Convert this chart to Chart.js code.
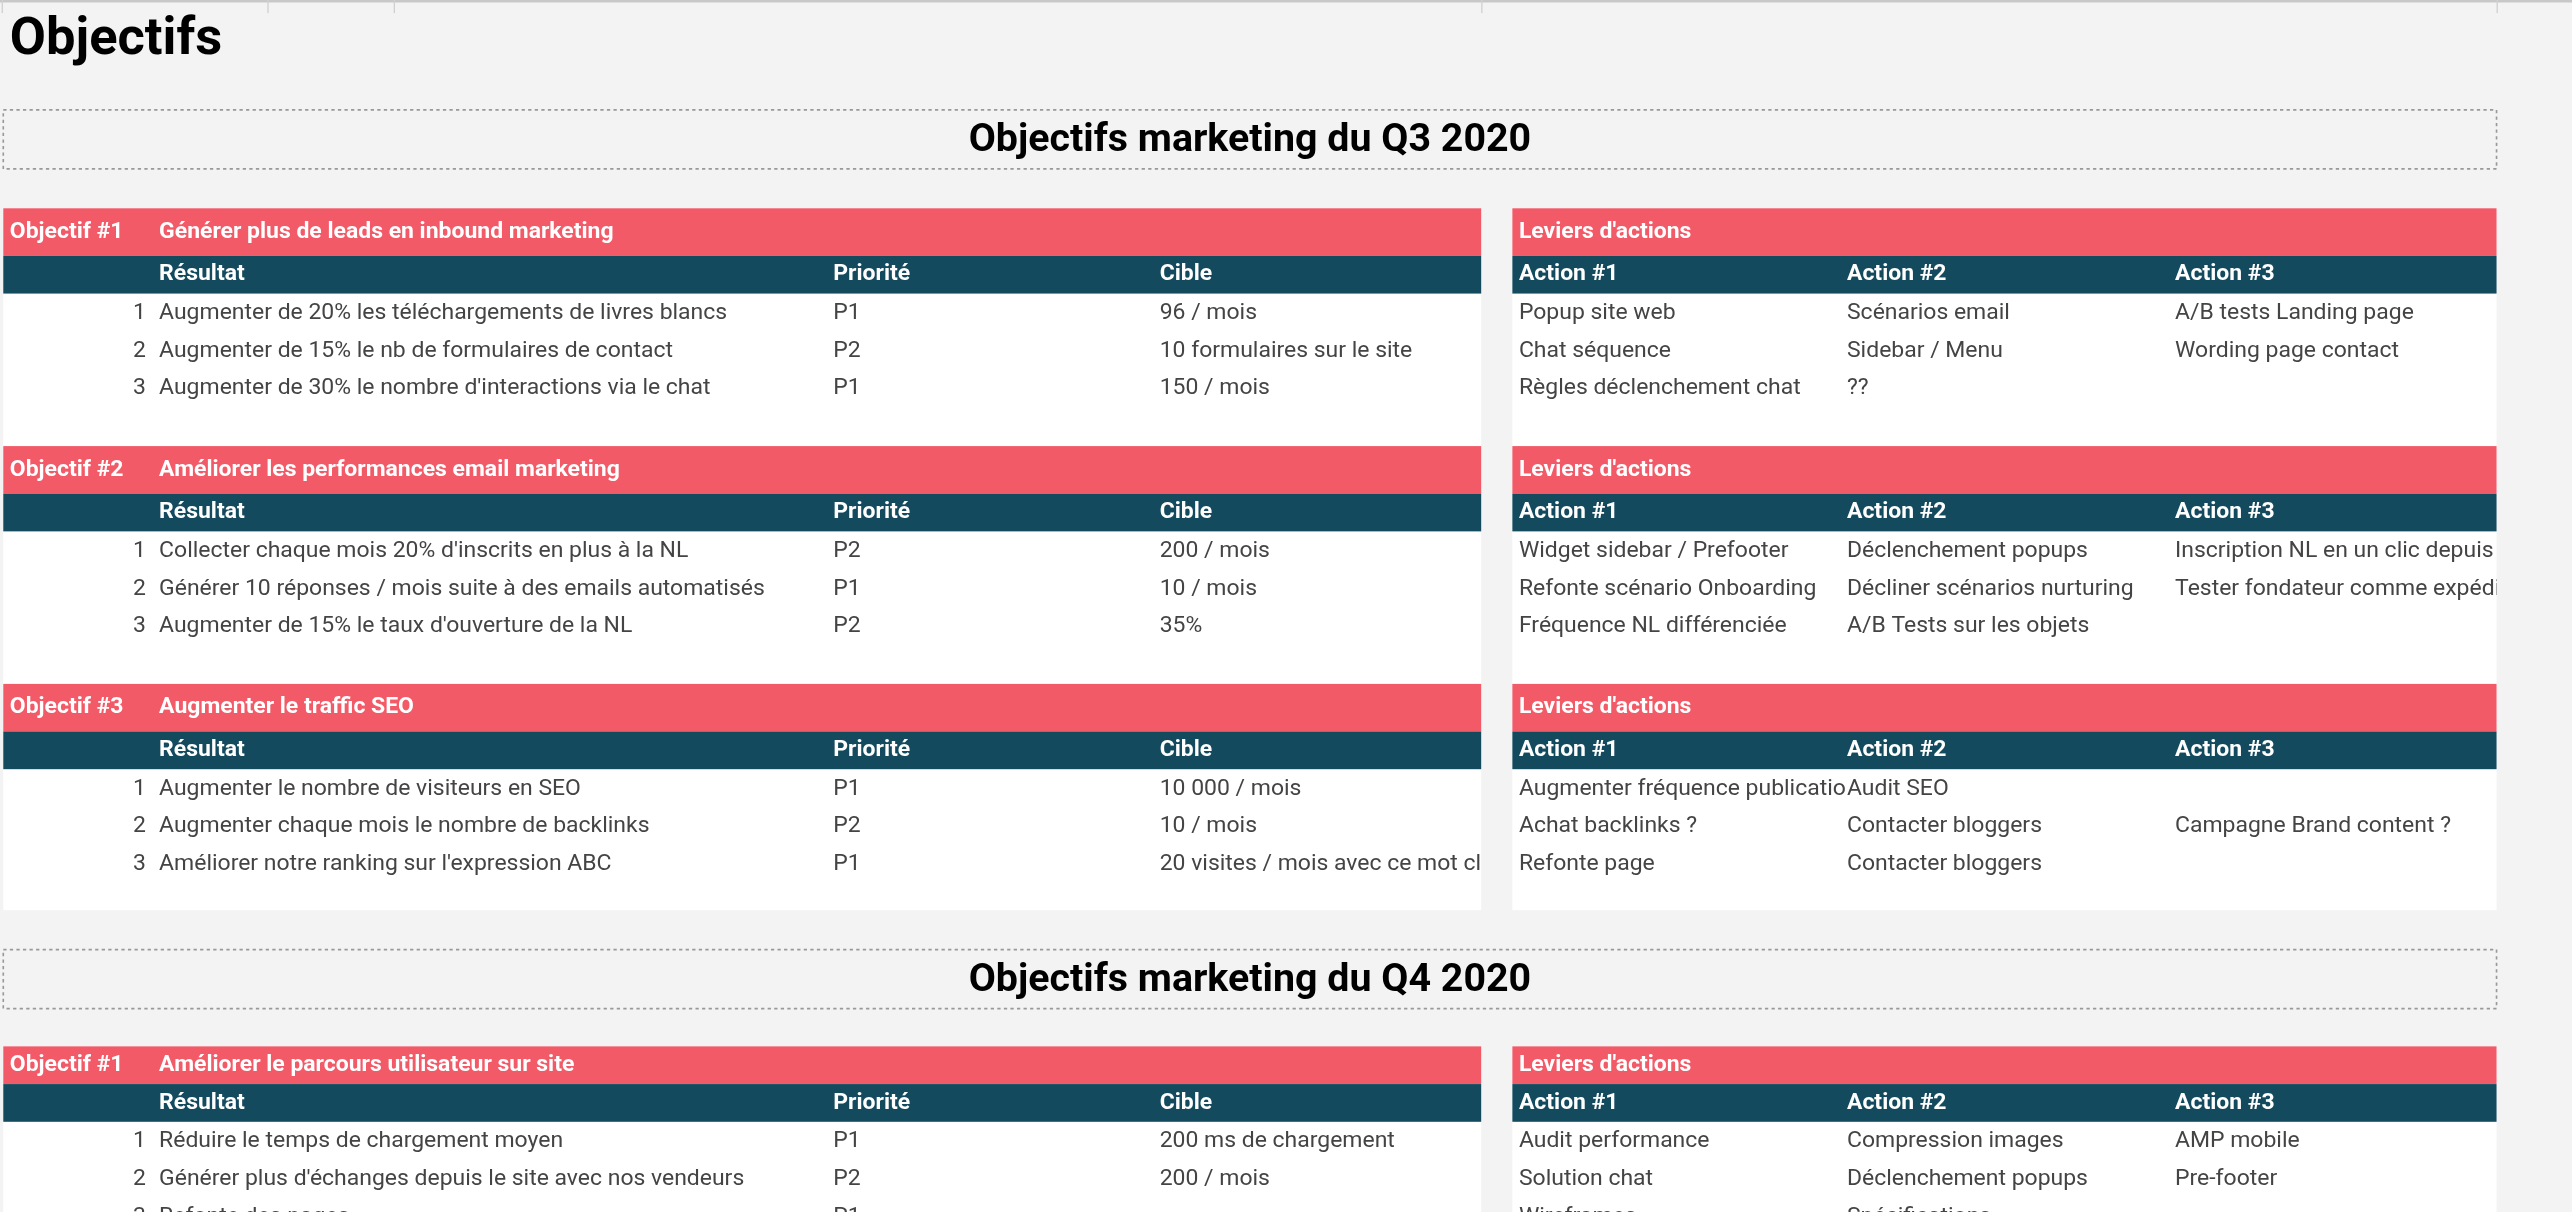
<!DOCTYPE html>
<html><head><meta charset="utf-8">
<script src="https://cdn.jsdelivr.net/npm/chart.js@4/dist/chart.umd.min.js"></script>
<style>html,body{margin:0;padding:0;background:#f3f3f3;overflow:hidden}#wrap{width:2572px;height:1212px}</style>
</head><body><div id="wrap"><canvas id="sheet"></canvas></div>
<script>
// Sheet content
const sectionTitles = ["Objectifs marketing du Q3 2020", "Objectifs marketing du Q4 2020"];
const objectiveLabels = ["Objectif #1", "Objectif #2", "Objectif #3", "Objectif #1"];
const objectiveNames = [
  "Générer plus de leads en inbound marketing",
  "Améliorer les performances email marketing",
  "Augmenter le traffic SEO",
  "Améliorer le parcours utilisateur sur site",
];
const resultHeaders = ["Résultat", "Priorité", "Cible"];
const actionHeaders = ["Action #1", "Action #2", "Action #3"];
const results = [
  ["Augmenter de 20% les téléchargements de livres blancs", "Augmenter de 15% le nb de formulaires de contact", "Augmenter de 30% le nombre d'interactions via le chat"],
  ["Collecter chaque mois 20% d'inscrits en plus à la NL", "Générer 10 réponses / mois suite à des emails automatisés", "Augmenter de 15% le taux d'ouverture de la NL"],
  ["Augmenter le nombre de visiteurs en SEO", "Augmenter chaque mois le nombre de backlinks", "Améliorer notre ranking sur l'expression ABC"],
  ["Réduire le temps de chargement moyen", "Générer plus d'échanges depuis le site avec nos vendeurs", "Refonte des pages"],
];
const priorities = [["P1", "P2", "P1"], ["P2", "P1", "P2"], ["P1", "P2", "P1"], ["P1", "P2", "P1"]];
const targets = [
  ["96 / mois", "10 formulaires sur le site", "150 / mois"],
  ["200 / mois", "10 / mois", "35%"],
  ["10 000 / mois", "10 / mois", "20 visites / mois avec ce mot clé"],
  ["200 ms de chargement", "200 / mois", ""],
];
const actions = [
  [["Popup site web", "Scénarios email", "A/B tests Landing page"], ["Chat séquence", "Sidebar / Menu", "Wording page contact"], ["Règles déclenchement chat", "??", ""]],
  [["Widget sidebar / Prefooter", "Déclenchement popups", "Inscription NL en un clic depuis les emails"], ["Refonte scénario Onboarding", "Décliner scénarios nurturing", "Tester fondateur comme expéditeur"], ["Fréquence NL différenciée", "A/B Tests sur les objets", ""]],
  [["Augmenter fréquence publication", "Audit SEO", ""], ["Achat backlinks ?", "Contacter bloggers", "Campagne Brand content ?"], ["Refonte page", "Contacter bloggers", ""]],
  [["Audit performance", "Compression images", "AMP mobile"], ["Solution chat", "Déclenchement popups", "Pre-footer"], ["Wireframes", "Spécifications", ""]],
];

// layout in reference units (1568 x 739 view)
const W = 1568, H = 739;
const blockTops = [127, 272, 417, 638];
const sectionBoxes = [[67, 103], [579, 615]];
const PINK = "#f25a68", TEAL = "#134a5e", FONT = "Roboto, 'Noto Sans', sans-serif";

const sheetPlugin = {
  id: "sheet",
  beforeDraw(chart) {
    const c = chart.ctx, sx = chart.scales.x, sy = chart.scales.y;
    const X = v => sx.getPixelForValue(v), Y = v => sy.getPixelForValue(v);
    const k = (X(W) - X(0)) / W;
    const rect = (x0, y0, x1, y1, col) => { c.fillStyle = col; c.fillRect(X(x0), Y(y0), X(x1) - X(x0), Y(y1) - Y(y0)); };
    const text = (s, x, y, size, weight, col, align, clipTo) => {
      c.save();
      if (clipTo) { c.beginPath(); c.rect(X(x) - 2, 0, X(clipTo) - X(x) + 2, chart.height); c.clip(); }
      c.font = weight + " " + (size * k) + "px " + FONT;
      c.fillStyle = col; c.textAlign = align || "left"; c.textBaseline = "middle";
      c.fillText(s, X(x), Y(y));
      c.restore();
    };
    rect(0, 0, W, H, "#f3f3f3");
    rect(0, 0, W, 1.5, "#c8c8c8");
    [1, 163, 240, 903, 1522].forEach(x => rect(x, 0, x + 0.8, 8, "#d0d0d0"));
    text("Objectifs", 6, 25, 32, "bold", "#000");
    sectionBoxes.forEach(([t, b], i) => {
      c.save(); c.setLineDash([2 * k, 2 * k]); c.strokeStyle = "#999"; c.lineWidth = k;
      c.strokeRect(X(2), Y(t), X(1522) - X(2), Y(b) - Y(t)); c.restore();
      text(sectionTitles[i], 762, (t + b) / 2 + 1, 24, "bold", "#000", "center");
    });
    // white panels
    rect(2, 127, 903, 555, "#fff"); rect(922, 127, 1522, 555, "#fff");
    rect(2, 638, 903, H, "#fff"); rect(922, 638, 1522, H, "#fff");
    blockTops.forEach((top, b) => {
      const ph = b === 3 ? 23 : 29, hEnd = top + ph, dEnd = hEnd + 23;
      rect(2, top, 903, hEnd, PINK); rect(922, top, 1522, hEnd, PINK);
      rect(2, hEnd, 903, dEnd, TEAL); rect(922, hEnd, 1522, dEnd, TEAL);
      text(objectiveLabels[b], 6, (top + hEnd) / 2, 14, "bold", "#fff");
      text(objectiveNames[b], 97, (top + hEnd) / 2, 14, "bold", "#fff");
      text("Leviers d'actions", 926, (top + hEnd) / 2, 14, "bold", "#fff");
      const lc = [97, 508, 707], rc = [926, 1126, 1326];
      resultHeaders.forEach((h, i) => text(h, lc[i], (hEnd + dEnd) / 2, 14, "bold", "#fff"));
      actionHeaders.forEach((h, i) => text(h, rc[i], (hEnd + dEnd) / 2, 14, "bold", "#fff"));
      for (let r = 0; r < 3; r++) {
        const y = dEnd + 12 + r * 23;
        text(String(r + 1), 89, y, 14, "normal", "#444", "right");
        text(results[b][r], 97, y, 14, "normal", "#444", "left", 508);
        text(priorities[b][r], 508, y, 14, "normal", "#444", "left", 707);
        text(targets[b][r], 707, y, 14, "normal", "#444", "left", 903);
        actions[b][r].forEach((a, i) => text(a, rc[i], y, 14, "normal", "#444", "left", i < 2 ? rc[i + 1] : 1522));
      }
    });
  }
};

new Chart(document.getElementById("sheet"), {
  type: "scatter",
  data: { datasets: [{ data: [] }] },
  options: {
    responsive: true, maintainAspectRatio: false, animation: false,
    layout: { padding: 0 },
    plugins: { legend: { display: false }, tooltip: { enabled: false } },
    scales: {
      x: { type: "linear", min: 0, max: W, display: false },
      y: { type: "linear", min: 0, max: H, reverse: true, display: false },
    },
  },
  plugins: [sheetPlugin],
});
</script></body></html>
